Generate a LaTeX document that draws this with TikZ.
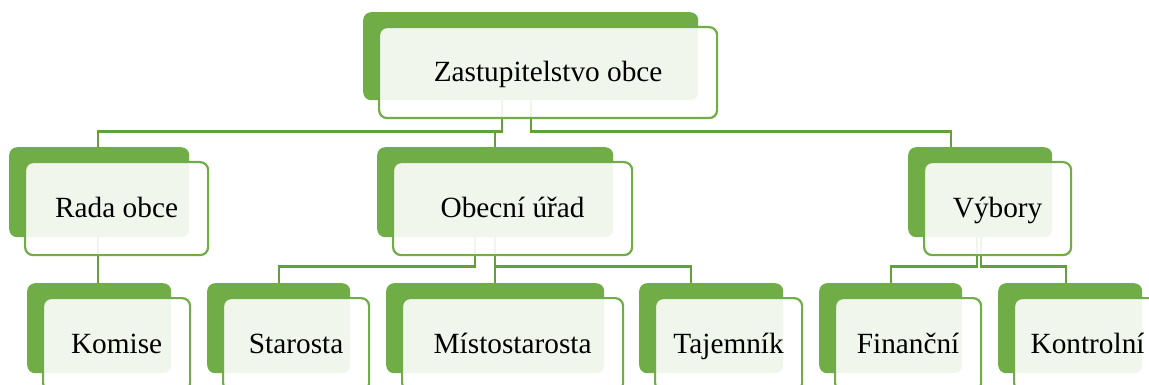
\documentclass[tikz,border=0pt]{standalone}
\usepackage{fontspec}
\setmainfont{Liberation Serif}
\definecolor{accent}{HTML}{70AD47}
\definecolor{connclr}{HTML}{62A03C}
\tikzset{
  backbox/.style={draw=none, fill=accent, rounded corners=8pt, anchor=north west, inner sep=0pt},
  frontbox/.style={draw=accent, line width=2.2pt, fill=white, fill opacity=0.9, text opacity=1,
    rounded corners=8pt, anchor=north west, inner sep=0pt, text height=22pt, text depth=4pt,
    font=\fontsize{29.3}{35}\selectfont},
  connline/.style={draw=connclr, line width=2.3pt},
}
\newcommand\orgback[5]{\node[backbox, minimum width=#4pt, minimum height=#5pt] (#1) at (#2,#3) {};}
\newcommand\orgfront[6]{\node[frontbox, minimum width={#4pt+3pt}, minimum height={#5pt+3pt}] (#1) at ({#2+15},{#3+14}) {#6};}
\begin{document}
\begin{tikzpicture}[x=1pt,y=-1pt]
\useasboundingbox (0,0) rectangle (1149,385);
\begin{scope}
\clip (0,0) rectangle (1149,385);
% back boxes
\orgback{zb}{363}{12}{335}{88}
\orgback{rb}{9}{147}{180}{90}
\orgback{ob}{377}{147}{236}{90}
\orgback{vb}{908}{147}{144}{90}
\orgback{kb}{27}{283}{144}{90}
\orgback{sb}{207}{283}{143}{90}
\orgback{mb}{386}{283}{218}{90}
\orgback{tb}{639}{283}{144}{90}
\orgback{fb}{819}{283}{143}{90}
\orgback{nb}{998}{283}{144}{90}
% connectors
\draw[connline] ([xshift=-28.5pt]zb.south) -- ++(0,31) -| ([xshift=-1pt]rb.north);
\draw[connline] ([xshift=-28.5pt]zb.south) -- ++(0,31) -| (ob.north);
\draw[connline] (zb.south) -- ++(0,31) -| ([xshift=-29pt]vb.north);
\draw[connline] ([xshift=-1pt]rb.south) -- ([xshift=-1pt]kb.north);
\draw[connline] ([xshift=-20pt]ob.south) -- ++(0,29) -| (sb.north);
\draw[connline] (ob.south) -- (mb.north);
\draw[connline] (ob.south) -- ++(0,29) -| ([xshift=-20pt]tb.north);
\draw[connline] ([xshift=-3pt]vb.south) -- ++(0,29) -| (fb.north);
\draw[connline] ([xshift=1pt]vb.south) -- ++(0,29) -| ([xshift=-4pt]nb.north);
% front boxes
\orgfront{z}{363}{12}{335}{88}{Zastupitelstvo obce}
\orgfront{r}{9}{147}{180}{90}{Rada obce}
\orgfront{o}{377}{147}{236}{90}{Obecní úřad}
\orgfront{v}{908}{147}{144}{90}{Výbory}
\orgfront{k}{27}{283}{144}{90}{Komise}
\orgfront{s}{207}{283}{143}{90}{Starosta}
\orgfront{m}{386}{283}{218}{90}{Místostarosta}
\orgfront{t}{639}{283}{144}{90}{Tajemník}
\orgfront{f}{819}{283}{143}{90}{Finanční}
\orgfront{n}{998}{283}{144}{90}{Kontrolní}
\end{scope}
\end{tikzpicture}
\end{document}
